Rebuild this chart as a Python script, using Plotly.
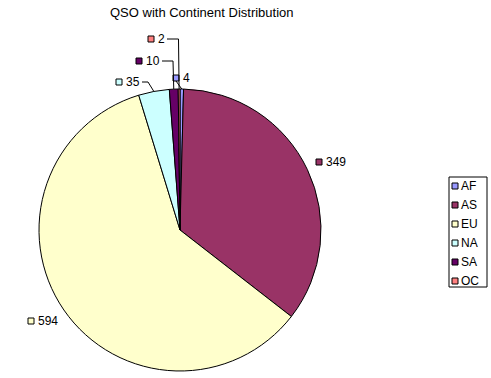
import plotly.graph_objects as go
import math

# ---- data ----
continents = ["AF", "AS", "EU", "NA", "SA", "OC"]
qso_counts = [4, 349, 594, 35, 10, 2]
slice_colors = ["#9999FF", "#993366", "#FFFFCC", "#CCFFFF", "#660066", "#FF8080"]
title_text = "QSO with Continent Distribution"

W, H = 491, 378
CX, CY, R = 180, 230, 141  # pie center / radius in pixels

def px(x):
    return x / W

def py(y):
    return 1 - y / H

FONT = "Liberation Sans"

fig = go.Figure()
fig.add_trace(go.Pie(
    labels=continents,
    values=qso_counts,
    sort=False,
    direction="clockwise",
    rotation=0,
    marker=dict(colors=slice_colors, line=dict(color="black", width=1)),
    textinfo="none",
    hoverinfo="label+value",
    showlegend=False,
    domain=dict(x=[px(CX - R), px(CX + R)], y=[py(CY + R), py(CY - R)]),
))

# label placement (text-left x, center y) for each slice, pixels
label_pos = {
    "AF": (182, 78),
    "AS": (325, 162),
    "EU": (37, 321),
    "NA": (125, 82),
    "SA": (145, 61),
    "OC": (157, 39),
}
# which labels get a leader line: (elbow x)
leaders = {"NA": 148, "SA": 173, "OC": 178.5, "AF": 175}

total = sum(qso_counts)
cum = 0
shapes = []
annotations = []
for name, v, c in zip(continents, qso_counts, slice_colors):
    mid = (cum + v / 2) / total * 2 * math.pi
    cum += v
    ex = CX + R * math.sin(mid)
    ey = CY - R * math.cos(mid)
    tx, ty = label_pos[name]
    shapes.append(dict(type="rect", xref="paper", yref="paper",
                       x0=px(tx - 9), x1=px(tx - 3), y0=py(ty + 3), y1=py(ty - 3),
                       fillcolor=c, line=dict(color="black", width=1)))
    annotations.append(dict(x=px(tx - 1), y=py(ty), xref="paper", yref="paper",
                            text=str(v), showarrow=False, xanchor="left", yanchor="middle",
                            font=dict(family=FONT, size=12, color="black")))
    if name in leaders:
        elx = leaders[name]
        txt_w = 7 * len(str(v))
        if name == "AF":
            path = f"M{px(tx-6)},{py(ty+3)} L{px(ex)},{py(ey)}"
        else:
            path = (f"M{px(tx + txt_w + 3)},{py(ty)} L{px(elx)},{py(ty)} "
                    f"L{px(ex)},{py(ey)}")
        shapes.append(dict(type="path", xref="paper", yref="paper", path=path,
                           line=dict(color="black", width=1)))

# manual legend box
LX0, LY0, LX1, LY1 = 449, 177, 487, 287
shapes.append(dict(type="rect", xref="paper", yref="paper",
                   x0=px(LX0), x1=px(LX1), y0=py(LY1), y1=py(LY0),
                   fillcolor="white", line=dict(color="black", width=1)))
for i, (name, c) in enumerate(zip(continents, slice_colors)):
    yy = 186 + i * 19
    shapes.append(dict(type="rect", xref="paper", yref="paper",
                       x0=px(452), x1=px(458), y0=py(yy + 3), y1=py(yy - 3),
                       fillcolor=c, line=dict(color="black", width=1)))
    annotations.append(dict(x=px(459), y=py(yy), xref="paper", yref="paper",
                            text=name, showarrow=False, xanchor="left", yanchor="middle",
                            font=dict(family=FONT, size=12, color="black")))

annotations.append(dict(x=px(202), y=py(12), xref="paper", yref="paper",
                        text=title_text, showarrow=False, xanchor="center", yanchor="middle",
                        font=dict(family=FONT, size=13, color="black")))

fig.update_layout(
    width=W, height=H,
    margin=dict(l=0, r=0, t=0, b=0),
    paper_bgcolor="white",
    plot_bgcolor="white",
    shapes=shapes,
    annotations=annotations,
    showlegend=False,
)

fig.write_html("out.html",
               config={"displayModeBar": False},
               post_script="document.body.style.margin='0';document.body.style.overflow='hidden';")
